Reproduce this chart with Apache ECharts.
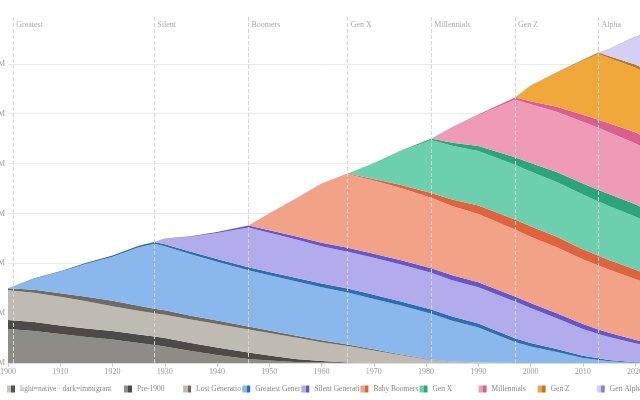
<!DOCTYPE html>
<html>
<head>
<meta charset="utf-8">
<script src="https://cdn.jsdelivr.net/npm/echarts@6/dist/echarts.min.js"></script>
<style>
  html, body { margin: 0; padding: 0; background: #fff; }
  #chart { width: 640px; height: 400px; }
</style>
</head>
<body>
<div id="chart"></div>
<script>
// US population by generation, millions (light = native born, dark = immigrant)
const years = [1900, 1905, 1910, 1915, 1920, 1925, 1928, 1930, 1935, 1940, 1946, 1950, 1955, 1960,
  1965, 1970, 1975, 1981, 1985, 1990, 1997, 2000, 2005, 2010, 2013, 2015, 2020, 2024];

const pre1900Native = [34, 32, 29, 26, 23.5, 20, 18, 16.5, 12, 8, 4, 2.5, 1, 0.4, 0.1, 0, 0, 0, 0, 0, 0, 0, 0, 0, 0, 0, 0, 0];
const pre1900Immigrant = [9, 9, 8.5, 8.5, 8.5, 8.5, 8.5, 8.5, 8, 7.5, 6.5, 5, 3, 1.5, 0.5, 0.1, 0, 0, 0, 0, 0, 0, 0, 0, 0, 0, 0, 0];
const lostNative = [30, 29.5, 29, 27.5, 25, 24, 23.5, 23.5, 23.5, 23.5, 23, 22.5, 21.5, 19, 16.5, 12.5, 8, 3, 1.2, 0.4, 0, 0, 0, 0, 0, 0, 0, 0];
const lostImmigrant = [2, 3, 3.5, 4.5, 5.5, 5, 4.5, 4.5, 4, 3.5, 3, 2.5, 2, 2, 1.5, 1.2, 0.8, 0.4, 0.2, 0.1, 0, 0, 0, 0, 0, 0, 0, 0];
const greatestNative = [0, 11, 21.5, 33, 44, 58.5, 65, 64, 61.5, 59, 56.5, 55.5, 54.5, 53, 52, 50.5, 49, 46, 41, 35, 21, 16.5, 11, 5, 3, 1.8, 0.3, 0];
const greatestImmigrant = [0, 0.5, 0.5, 1, 1.2, 1.5, 1.8, 2, 2.5, 2.8, 3, 3.2, 3.5, 3.8, 4, 4.2, 4.2, 4.2, 4.2, 4, 3.8, 3.6, 3, 2.2, 1.7, 1.3, 0.5, 0.2];
const silentNative = [0, 0, 0, 0, 0, 0, 0, 5.5, 15, 26, 40, 39.5, 38.5, 37.5, 37, 37, 37, 37, 36.5, 36.5, 37, 35, 31, 27, 24.5, 23, 19, 15];
const silentImmigrant = [0, 0, 0, 0, 0, 0, 0, 0.3, 0.7, 1.2, 2, 2.5, 3, 3.5, 4, 4, 4.2, 4.5, 4.8, 5, 5, 5, 5, 4.8, 4.5, 4.2, 3.5, 3];
const boomerNative = [0, 0, 0, 0, 0, 0, 0, 0, 0, 0, 0, 17, 37.5, 59, 74, 73.5, 72.5, 70.5, 69.5, 68.5, 67, 66.5, 66, 65, 64, 63.5, 61, 58];
const boomerImmigrant = [0, 0, 0, 0, 0, 0, 0, 0, 0, 0, 0, 0, 0.1, 0.2, 0.5, 1.5, 3, 5, 6.5, 8.5, 10, 10.5, 10.5, 10, 9.8, 9.6, 9.5, 9];
const genXNative = [0, 0, 0, 0, 0, 0, 0, 0, 0, 0, 0, 0, 0, 0, 0, 16, 33.5, 53, 54, 54.5, 55, 55, 55, 55, 54.5, 54, 53, 52];
const genXImmigrant = [0, 0, 0, 0, 0, 0, 0, 0, 0, 0, 0, 0, 0, 0, 0, 0.2, 0.5, 1.5, 3, 5, 7.5, 8.5, 10, 11, 11.5, 12, 12.5, 12.5];
const millennialNative = [0, 0, 0, 0, 0, 0, 0, 0, 0, 0, 0, 0, 0, 0, 0, 0, 0, 0, 15.5, 31, 58, 59, 60.5, 62, 62.5, 62, 61, 60];
const millennialImmigrant = [0, 0, 0, 0, 0, 0, 0, 0, 0, 0, 0, 0, 0, 0, 0, 0, 0, 0, 0.3, 0.8, 2, 3, 5, 7, 8, 9, 11, 12];
const genZNative = [0, 0, 0, 0, 0, 0, 0, 0, 0, 0, 0, 0, 0, 0, 0, 0, 0, 0, 0, 0, 0, 15.5, 34, 54, 66, 65.5, 65, 64];
const genZImmigrant = [0, 0, 0, 0, 0, 0, 0, 0, 0, 0, 0, 0, 0, 0, 0, 0, 0, 0, 0, 0, 0, 0.2, 0.5, 1, 1.5, 2, 3, 4];
const alphaNative = [0, 0, 0, 0, 0, 0, 0, 0, 0, 0, 0, 0, 0, 0, 0, 0, 0, 0, 0, 0, 0, 0, 0, 0, 0, 7.5, 27.5, 42];
const alphaImmigrant = [0, 0, 0, 0, 0, 0, 0, 0, 0, 0, 0, 0, 0, 0, 0, 0, 0, 0, 0, 0, 0, 0, 0, 0, 0, 0.1, 0.5, 1];

const generationNames = ["Pre-1900", "Lost Generation", "Greatest Generation", "Silent Generation",
  "Baby Boomers", "Gen X", "Millennials", "Gen Z", "Gen Alpha"];
const nativeValues = [pre1900Native, lostNative, greatestNative, silentNative, boomerNative,
  genXNative, millennialNative, genZNative, alphaNative];
const immigrantValues = [pre1900Immigrant, lostImmigrant, greatestImmigrant, silentImmigrant, boomerImmigrant,
  genXImmigrant, millennialImmigrant, genZImmigrant, alphaImmigrant];

// generation start years (dashed markers)
const markerYears = [1901, 1928, 1946, 1965, 1981, 1997, 2013];
const markerLabels = ["Greatest", "Silent", "Boomers", "Gen X", "Millennials", "Gen Z", "Alpha"];

const lightColors = ["#8e8c86", "#bfbbb3", "#8bb8ec", "#b3acec", "#f1a287", "#6ccfae", "#ef9bb8", "#f0a83a", "#d3cff5"];
const darkColors = ["#4d4b48", "#6e6b66", "#2d6db5", "#6656c8", "#e0633f", "#2ca57c", "#da5f90", "#b97a2a", "#8c80d6"];

const keyName = "light=native · dark=immigrant";
const font = "Liberation Serif";

function twoTone(light, dark) {
  return {
    type: "linear", x: 0, y: 0, x2: 1, y2: 0,
    colorStops: [
      { offset: 0, color: light }, { offset: 0.55, color: light },
      { offset: 0.55, color: dark }, { offset: 1, color: dark },
    ],
  };
}

// value first so the stack sums population, not years
function layer(name, values, color) {
  return {
    name: name,
    type: "line",
    stack: "population",
    symbol: "none",
    silent: true,
    lineStyle: { width: 0 },
    areaStyle: { color: color, opacity: 1 },
    encode: { x: 1, y: 0 },
    data: years.map((y, i) => [values[i], y]),
  };
}

const series = [];
generationNames.forEach((name, i) => {
  series.push(layer(name, nativeValues[i], lightColors[i]));
  series.push(layer(name + " (immigrant)", immigrantValues[i], darkColors[i]));
});
series.push({ name: keyName, type: "line", data: [] });
series[series.length - 2].markLine = {
  silent: true,
  symbol: "none",
  lineStyle: { type: "dashed", color: "#d4d4d4", width: 1 },
  label: {
    position: "end",
    align: "left",
    verticalAlign: "top",
    distance: -6,
    padding: [0, 0, 0, 3],
    color: "#aaa",
    fontSize: 8,
    fontFamily: font,
    formatter: "{b}",
  },
  data: markerYears.map((y, i) => ({ xAxis: y, name: markerLabels[i] })),
};

// one small legend per entry so every entry gets the same slot width
const legendNames = [keyName].concat(generationNames);
const legendLight = ["#c8c5be"].concat(lightColors);
const legendDark = ["#55534f"].concat(darkColors);
const legends = legendNames.map((name, k) => ({
  left: k === 0 ? 7 : 124 + (k - 1) * 59.1,
  top: 385,
  padding: 0,
  icon: "rect",
  itemWidth: 8,
  itemHeight: 7,
  textStyle: {
    color: "#888", fontSize: 7.5, fontFamily: font,
    width: k === 0 ? 100 : 47, overflow: "truncate", ellipsis: "",
  },
  data: [{ name: name, itemStyle: { color: twoTone(legendLight[k], legendDark[k]) } }],
}));

const option = {
  animation: false,
  grid: { left: 8, top: 15, width: 648, bottom: 37, outerBoundsMode: "none", containLabel: false },
  xAxis: {
    type: "value",
    min: 1900,
    max: 2024,
    interval: 10,
    axisLine: { show: true, lineStyle: { color: "#ddd" } },
    axisTick: { show: true, length: 4, lineStyle: { color: "#ccc" } },
    splitLine: { show: false },
    axisLabel: { color: "#999", fontSize: 8, fontFamily: font, margin: 5, formatter: (v) => String(v) },
  },
  yAxis: {
    type: "value",
    min: 0,
    max: 349,
    interval: 50,
    axisLine: { show: false },
    axisTick: { show: false },
    splitLine: { show: true, showMaxLine: false, lineStyle: { color: "#ebebeb" } },
    axisLabel: {
      color: "#999", fontSize: 8, fontFamily: font, margin: 3, showMaxLabel: false,
      formatter: (v) => v + "M",
    },
  },
  legend: legends,
  series: series,
};

const chart = echarts.init(document.getElementById("chart"));
chart.setOption(option);
</script>
</body>
</html>
